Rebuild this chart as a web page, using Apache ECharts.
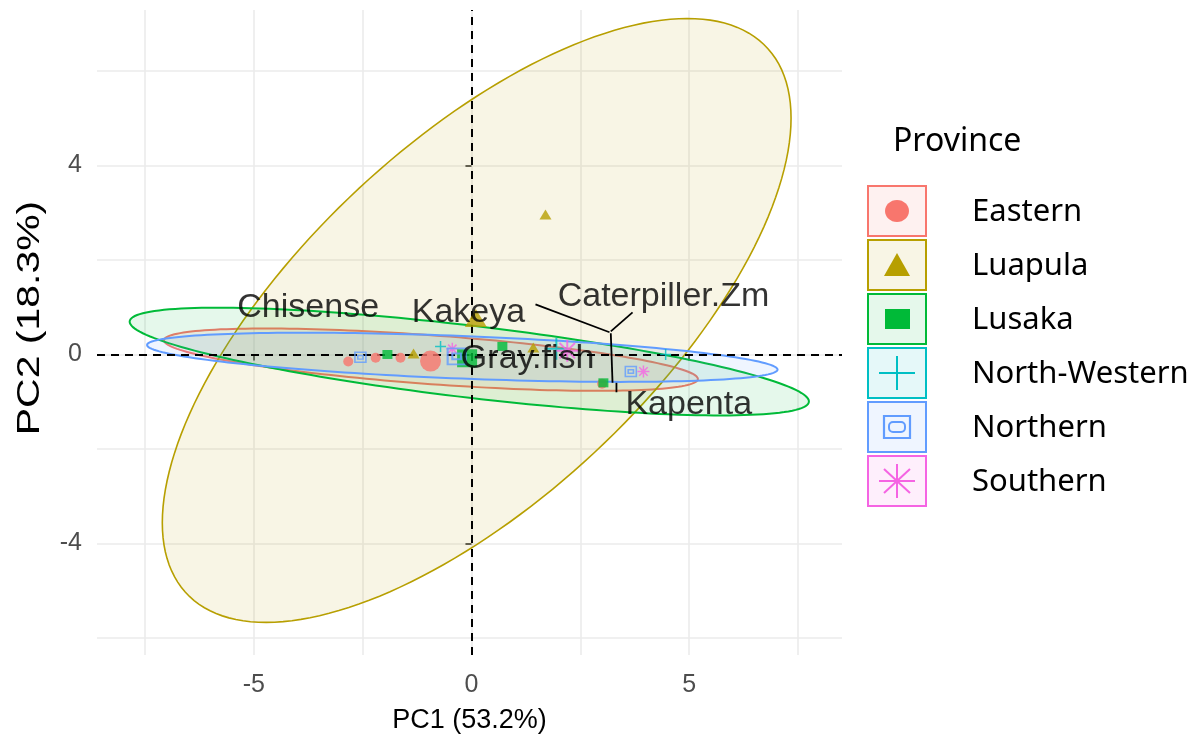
<!DOCTYPE html>
<html>
<head>
<meta charset="utf-8">
<script src="https://cdn.jsdelivr.net/npm/echarts@6/dist/echarts.min.js"></script>
<style>
  html, body { margin: 0; padding: 0; background: #ffffff; }
  #chart { width: 1203px; height: 744px; }
</style>
</head>
<body>
<div id="chart"></div>
<script>
// ---- PCA individuals, grouped by province ----
const provinces = ['Eastern', 'Luapula', 'Lusaka', 'North-Western', 'Northern', 'Southern'];
const provinceColors = ['#F8766D', '#B79F00', '#00BA38', '#00BFC4', '#619CFF', '#F564E3'];

// individual scores [PC1, PC2]
const easternScores = [[-2.83, -0.15], [-2.2, -0.07], [-1.63, -0.07], [3.0, -0.62]];
const luapulaScores = [[-1.33, 0.02], [1.42, 0.15], [1.70, 2.96]];
const lusakaScores = [[-1.93, 0.0], [0.71, 0.17], [3.03, -0.6]];
const northWesternScores = [[-0.71, 0.17], [4.46, 0.0]];
const northernScores = [[-2.55, -0.06], [3.66, -0.36]];
const southernScores = [[-0.44, 0.12], [3.95, -0.36]];

// group centres [PC1, PC2]
const groupMeans = [[-0.94, -0.14], [0.1, 0.77], [-0.1, -0.08], [1.95, 0.12], [-0.34, -0.04], [2.2, 0.08]];

// concentration ellipses (Eastern, Luapula, Lusaka, Northern)
const ellipseGroups = ['Eastern', 'Luapula', 'Lusaka', 'Northern'];
const ellipseCentres = [[-0.93, -0.11], [0.12, 0.72], [-0.05, -0.15], [-0.21, -0.06]];
const ellipseHalfWidths = [6.13, 7.22, 7.8, 7.24];
const ellipseHalfHeights = [0.66, 6.39, 1.14, 0.52];
const ellipseCorrelations = [-0.62, 0.67, -0.74, -0.5];

// labelled individuals
const labelNames = ['Chisense', 'Kakeya', 'Caterpiller.Zm', 'Gray.fish', 'Kapenta'];
const labelPositions = [[-3.75, 1.0], [-0.07, 0.88], [4.41, 1.22], [1.29, -0.08], [4.99, -1.06]];
// leader segments from labels to their points
const leaderSegments = [
  [[1.47, 1.06], [3.17, 0.47]],
  [[3.70, 0.89], [3.20, 0.49]],
  [[3.20, 0.45], [3.24, -0.60]],
  [[3.33, -0.60], [3.33, -0.80]]
];

// axes
const xGridValues = [-7.5, -5, -2.5, 0, 2.5, 5, 7.5];
const yGridValues = [-6, -4, -2, 0, 2, 4, 6];
const xTickLabels = [-5, 0, 5];
const yTickLabels = [-4, 0, 4];
const xTitle = 'PC1 (53.2%)';
const yTitle = 'PC2 (18.3%)';

const scoreSets = [easternScores, luapulaScores, lusakaScores, northWesternScores, northernScores, southernScores];

function rgba(hex, a) {
  const n = parseInt(hex.slice(1), 16);
  return 'rgba(' + ((n >> 16) & 255) + ',' + ((n >> 8) & 255) + ',' + (n & 255) + ',' + a + ')';
}

const plusPath = 'path://M0,5L10,5M5,0L5,10';
const starPath = 'path://M0,5L10,5M5,0L5,10M1.5,1.5L8.5,8.5M1.5,8.5L8.5,1.5';
const boxedPath = 'path://M0,0L10,0L10,10L0,10ZM2.6,3.2L7.4,3.2L7.4,6.8L2.6,6.8Z';

const symbolFor = ['circle', 'triangle', 'rect', plusPath, boxedPath, starPath];
const strokeOnly = [false, false, false, true, true, true];
const pointSizes = [[10, 10], [12, 10], [10, 9], [11, 11], [11, 10], [12, 12]];
const meanSizes = [[21, 21], [22, 18], [20, 18], [22, 22], [18, 16], [22, 22]];

function pointStyle(i) {
  const c = provinceColors[i];
  return strokeOnly[i]
    ? { color: 'rgba(0,0,0,0)', borderColor: c, borderWidth: 1.5 }
    : { color: c };
}

const series = [];

// panel grid lines
series.push({
  type: 'scatter', data: [], silent: true, z: 0,
  markLine: {
    silent: true, z: 0, symbol: ['none', 'none'], label: { show: false },
    lineStyle: { color: '#ebebeb', width: 1.6, type: 'solid' },
    emphasis: { disabled: true },
    data: xGridValues.map(v => ({ xAxis: v })).concat(yGridValues.map(v => ({ yAxis: v })))
  }
});

// ellipses
series.push({
  type: 'custom', z: 1, silent: true,
  data: ellipseCentres,
  encode: { x: 0, y: 1 },
  renderItem: function (params, api) {
    const i = params.dataIndex;
    const g = provinces.indexOf(ellipseGroups[i]);
    const c = provinceColors[g];
    const cx = ellipseCentres[i][0], cy = ellipseCentres[i][1];
    const sx = ellipseHalfWidths[i], sy = ellipseHalfHeights[i], r = ellipseCorrelations[i];
    const q = Math.sqrt(1 - r * r);
    const pts = [];
    for (let k = 0; k < 180; k++) {
      const t = k / 180 * Math.PI * 2;
      pts.push(api.coord([cx + sx * Math.cos(t), cy + sy * (r * Math.cos(t) + q * Math.sin(t))]));
    }
    return {
      type: 'polygon',
      shape: { points: pts },
      style: { fill: rgba(c, 0.1), stroke: c, lineWidth: g === 1 ? 1.6 : 2 }
    };
  }
});

// dashed reference lines through the origin
series.push({
  type: 'scatter', data: [], silent: true, z: 2,
  markLine: {
    silent: true, z: 2, symbol: ['none', 'none'], label: { show: false },
    lineStyle: { color: '#000000', width: 2, type: [8, 6] },
    emphasis: { disabled: true },
    data: [{ xAxis: 0 }, { yAxis: 0 }]
  }
});

// individual points
provinces.forEach(function (p, i) {
  series.push({
    name: p, type: 'scatter', z: 3, silent: true,
    symbol: symbolFor[i], symbolSize: pointSizes[i],
    itemStyle: pointStyle(i),
    data: scoreSets[i]
  });
});

// group centres
series.push({
  type: 'scatter', z: 3, silent: true,
  data: groupMeans.map(function (m, i) {
    return {
      value: m, symbol: symbolFor[i], symbolSize: meanSizes[i],
      itemStyle: strokeOnly[i]
        ? { color: 'rgba(0,0,0,0)', borderColor: provinceColors[i], borderWidth: 2 }
        : { color: provinceColors[i] }
    };
  })
});

// leader segments
series.push({
  type: 'custom', z: 4, silent: true,
  data: leaderSegments.map(s => s[0]),
  encode: { x: 0, y: 1 },
  renderItem: function (params, api) {
    const s = leaderSegments[params.dataIndex];
    const a = api.coord(s[0]), b = api.coord(s[1]);
    return {
      type: 'line',
      shape: { x1: a[0], y1: a[1], x2: b[0], y2: b[1] },
      style: { stroke: '#000000', lineWidth: 1.8 }
    };
  }
});

// individual labels
series.push({
  type: 'scatter', z: 5, silent: true,
  symbolSize: 1, itemStyle: { color: 'rgba(0,0,0,0)' },
  data: labelPositions.map(function (pos, i) { return { name: labelNames[i], value: pos }; }),
  label: {
    show: true, position: 'inside', formatter: '{b}',
    fontFamily: '"Liberation Sans", Arial, sans-serif', fontSize: 34, color: '#000000'
  }
});

const axisFont = '"Liberation Sans", Arial, sans-serif';

// legend built from the province list
const legendX = 868, legendY = 186, keyW = 58, keyH = 50, keyStep = 54;
const legendGraphics = [{
  type: 'text', x: 893, y: 142,
  style: { text: 'Province', fontFamily: '"Noto Sans", sans-serif', fontSize: 32, fill: '#000000', align: 'left', verticalAlign: 'middle' }
}, {
  // vertical axis title, slightly stretched along its reading direction
  type: 'text', x: 30, y: 318, rotation: Math.PI / 2, scaleX: 1.28,
  style: { text: yTitle, fontFamily: axisFont, fontSize: 32, fill: '#000000', align: 'center', verticalAlign: 'middle' }
}];

function legendGlyph(i, cx, cy) {
  const c = provinceColors[i];
  const line = (x1, y1, x2, y2) => ({ type: 'line', shape: { x1, y1, x2, y2 }, style: { stroke: c, lineWidth: 2 } });
  switch (i) {
    case 0: return [{ type: 'ellipse', shape: { cx, cy, rx: 12, ry: 11 }, style: { fill: c } }];
    case 1: return [{ type: 'polygon', shape: { points: [[cx - 13, cy + 11], [cx + 13, cy + 11], [cx, cy - 12]] }, style: { fill: c } }];
    case 2: return [{ type: 'rect', shape: { x: cx - 12, y: cy - 10, width: 25, height: 20 }, style: { fill: c } }];
    case 3: return [line(cx - 18, cy, cx + 18, cy), line(cx, cy - 17, cx, cy + 17)];
    case 4: return [
      { type: 'rect', shape: { x: cx - 13, y: cy - 11, width: 26, height: 22 }, style: { fill: 'none', stroke: c, lineWidth: 2.2 } },
      { type: 'rect', shape: { x: cx - 8, y: cy - 5, width: 16, height: 10, r: 4 }, style: { fill: 'none', stroke: c, lineWidth: 2 } }
    ];
    default: return [
      line(cx - 18, cy, cx + 18, cy), line(cx, cy - 17, cx, cy + 17),
      line(cx - 13, cy - 12, cx + 13, cy + 12), line(cx - 13, cy + 12, cx + 13, cy - 12)
    ];
  }
}

provinces.forEach(function (p, i) {
  const top = legendY + i * keyStep;
  const cx = legendX + keyW / 2, cy = top + keyH / 2;
  legendGraphics.push({
    type: 'rect', shape: { x: legendX, y: top, width: keyW, height: keyH },
    style: { fill: rgba(provinceColors[i], 0.1), stroke: provinceColors[i], lineWidth: 2 }
  });
  legendGlyph(i, cx, cy).forEach(g => legendGraphics.push(g));
  legendGraphics.push({
    type: 'text', x: 972, y: cy + 1,
    style: { text: p, fontFamily: '"Noto Sans", sans-serif', fontSize: 31, fill: '#000000', align: 'left', verticalAlign: 'middle' }
  });
});

const option = {
  animation: false,
  backgroundColor: '#ffffff',
  grid: { left: 97, right: 361, top: 10, bottom: 89, containLabel: false },
  xAxis: {
    type: 'value', min: -8.6, max: 8.51,
    axisLine: { show: false },
    axisTick: { show: true, customValues: xTickLabels, length: 6, lineStyle: { color: '#333333', width: 1.6 } },
    axisLabel: { customValues: xTickLabels, fontFamily: axisFont, fontSize: 25, color: '#4d4d4d', margin: 18 },
    splitLine: { show: false },
    name: xTitle, nameLocation: 'middle', nameGap: 52,
    nameTextStyle: { fontFamily: axisFont, fontSize: 27, color: '#000000' }
  },
  yAxis: {
    type: 'value', min: -6.36, max: 7.29,
    axisLine: { show: false },
    axisTick: { show: true, customValues: yTickLabels, length: 6, lineStyle: { color: '#333333', width: 1.6 } },
    axisLabel: { customValues: yTickLabels, fontFamily: axisFont, fontSize: 25, color: '#4d4d4d', margin: 15 },
    splitLine: { show: false }
  },
  graphic: legendGraphics,
  series: series
};

const chart = echarts.init(document.getElementById('chart'));
chart.setOption(option);
</script>
</body>
</html>
